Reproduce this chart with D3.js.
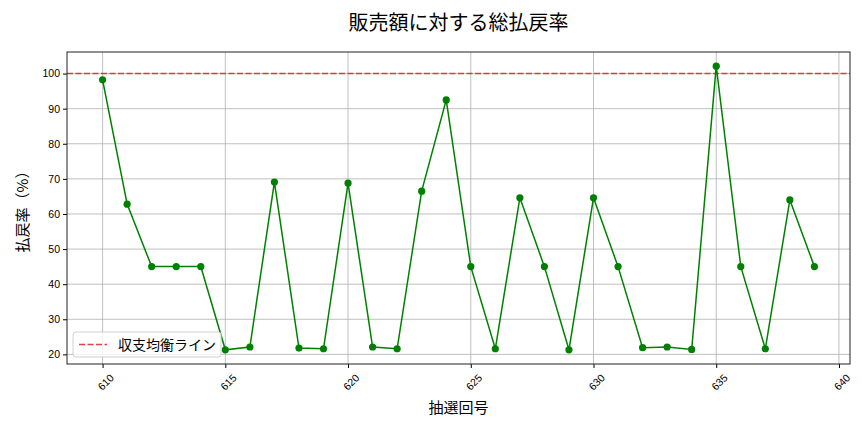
<!DOCTYPE html>
<html>
<head>
<meta charset="utf-8">
<script src="https://cdn.jsdelivr.net/npm/d3@7"></script>
<style>
  body { margin: 0; background: #fff; }
  svg { font-family: "Noto Sans CJK JP", "DejaVu Sans", sans-serif; }
</style>
</head>
<body>
<svg id="chart"></svg>
<script>
const draws = [610, 611, 612, 613, 614, 615, 616, 617, 618, 619, 620, 621, 622, 623, 624,
  625, 626, 627, 628, 629, 630, 631, 632, 633, 634, 635, 636, 637, 638, 639];
const payoutRates = [98.2, 62.8, 45.0, 45.0, 45.0, 21.3, 22.1, 69.1, 21.8, 21.6, 68.8, 22.1, 21.6, 66.5, 92.5,
  45.0, 21.6, 64.6, 45.0, 21.3, 64.6, 45.0, 21.9, 22.1, 21.4, 102.1, 45.0, 21.6, 64.0, 45.0];
const xTicks = [610, 615, 620, 625, 630, 635, 640];
const yTicks = [20, 30, 40, 50, 60, 70, 80, 90, 100];
const breakEven = 100;

const width = 864;
const height = 432;
const margin = { top: 52, right: 14, bottom: 68, left: 67 };

const svg = d3.select('#chart')
  .attr('width', width)
  .attr('height', height);

const data = draws.map((d, i) => ({ draw: d, rate: payoutRates[i] }));

// matplotlib style 5% padding around data
const xExt = d3.extent(draws);
const xPad = (xExt[1] - xExt[0]) * 0.05;
const yExt = d3.extent(payoutRates);
const yPad = (yExt[1] - yExt[0]) * 0.05;

const x = d3.scaleLinear()
  .domain([xExt[0] - xPad, xExt[1] + xPad])
  .range([margin.left, width - margin.right]);

const y = d3.scaleLinear()
  .domain([yExt[0] - yPad, yExt[1] + yPad])
  .range([height - margin.bottom, margin.top]);

const plotBottom = height - margin.bottom;
const plotRight = width - margin.right;

// grid
const grid = svg.append('g').attr('stroke', '#b0b0b0').attr('stroke-width', 0.8);
grid.selectAll('.vg')
  .data(xTicks)
  .enter().append('line')
  .attr('x1', d => x(d)).attr('x2', d => x(d))
  .attr('y1', margin.top).attr('y2', plotBottom);
grid.selectAll('.hg')
  .data(yTicks)
  .enter().append('line')
  .attr('x1', margin.left).attr('x2', plotRight)
  .attr('y1', d => y(d)).attr('y2', d => y(d));

// break-even line
svg.append('line')
  .attr('x1', margin.left).attr('x2', plotRight)
  .attr('y1', y(breakEven)).attr('y2', y(breakEven))
  .attr('stroke', '#dd2222')
  .attr('stroke-opacity', 0.85)
  .attr('stroke-width', 1.6)
  .attr('stroke-dasharray', '6,2.5');

// series
const line = d3.line()
  .x(d => x(d.draw))
  .y(d => y(d.rate));

svg.append('path')
  .datum(data)
  .attr('fill', 'none')
  .attr('stroke', 'green')
  .attr('stroke-width', 1.5)
  .attr('d', line);

svg.selectAll('.pt')
  .data(data)
  .enter().append('circle')
  .attr('cx', d => x(d.draw))
  .attr('cy', d => y(d.rate))
  .attr('r', 3.6)
  .attr('fill', 'green');

// axes
const xAxis = svg.append('g')
  .attr('transform', `translate(0, ${plotBottom})`)
  .call(d3.axisBottom(x).tickValues(xTicks).tickSize(4).tickPadding(3).tickFormat(d3.format('d')));
xAxis.select('.domain').remove();
xAxis.selectAll('text')
  .attr('font-size', 10.5)
  .attr('fill', '#000')
  .attr('text-anchor', 'end')
  .attr('dy', '0.35em')
  .attr('transform', 'translate(4, 7) rotate(-45)');

const yAxis = svg.append('g')
  .attr('transform', `translate(${margin.left}, 0)`)
  .call(d3.axisLeft(y).tickValues(yTicks).tickSize(4).tickPadding(3));
yAxis.select('.domain').remove();
yAxis.selectAll('text')
  .attr('font-size', 10.5)
  .attr('fill', '#000');

// frame
svg.append('rect')
  .attr('x', margin.left).attr('y', margin.top)
  .attr('width', plotRight - margin.left)
  .attr('height', plotBottom - margin.top)
  .attr('fill', 'none')
  .attr('stroke', '#222')
  .attr('stroke-width', 1);

// title and labels
svg.append('text')
  .attr('x', (margin.left + plotRight) / 2)
  .attr('y', 30)
  .attr('text-anchor', 'middle')
  .attr('font-size', 20)
  .text('販売額に対する総払戻率');

svg.append('text')
  .attr('x', (margin.left + plotRight) / 2)
  .attr('y', 413)
  .attr('text-anchor', 'middle')
  .attr('font-size', 15)
  .text('抽選回号');

svg.append('text')
  .attr('transform', `translate(28, ${(margin.top + plotBottom) / 2}) rotate(-90)`)
  .attr('text-anchor', 'middle')
  .attr('font-size', 15)
  .text('払戻率（%）');

// legend
const legend = svg.append('g').attr('transform', 'translate(73, 332)');
legend.append('rect')
  .attr('width', 148).attr('height', 25)
  .attr('rx', 3)
  .attr('fill', '#fff').attr('fill-opacity', 0.8)
  .attr('stroke', '#d0d0d0');
legend.append('line')
  .attr('x1', 6).attr('x2', 34)
  .attr('y1', 12.5).attr('y2', 12.5)
  .attr('stroke', '#dd2222')
  .attr('stroke-opacity', 0.85)
  .attr('stroke-width', 1.6)
  .attr('stroke-dasharray', '6,2.5');
legend.append('text')
  .attr('x', 45).attr('y', 17.5)
  .attr('font-size', 14)
  .text('収支均衡ライン');
</script>
</body>
</html>
